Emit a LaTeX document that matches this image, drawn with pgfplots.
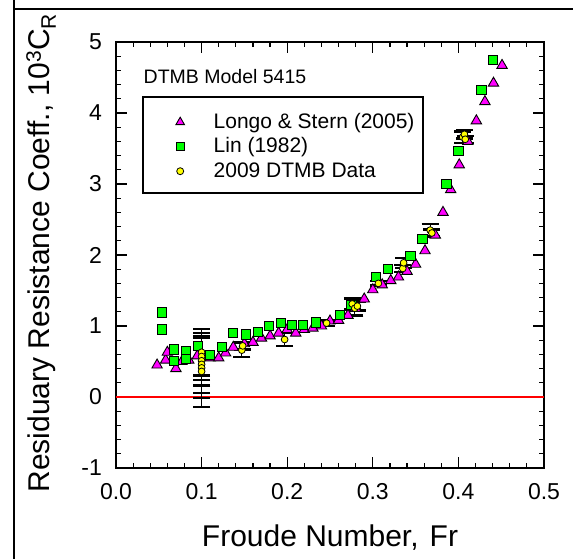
\documentclass[border=0pt]{standalone}
\usepackage{pgfplots}
\pgfplotsset{compat=1.18}
\usepackage{fontspec}
\setmainfont{Liberation Sans}
\definecolor{mag}{RGB}{255,0,255}
\definecolor{grn}{RGB}{0,255,0}
\definecolor{yel}{RGB}{255,255,0}
\begin{document}
\begin{tikzpicture}[x=1pt,y=1pt]
\useasboundingbox (0,0) rectangle (573,559);
\draw[line width=2pt] (14,580) -- (14,-20);
\draw[line width=2pt] (13,550) -- (600,550);
\begin{axis}[
  at={(116pt,91pt)}, anchor=south west,
  width=428pt, height=426pt, scale only axis,
  xmin=0, xmax=0.5, ymin=-1, ymax=5,
  xtick={0,0.1,0.2,0.3,0.4,0.5},
  xticklabels={0.0,0.1,0.2,0.3,0.4,0.5},
  ytick={-1,0,1,2,3,4,5},
  yticklabels={-1,0,1,2,3,4,5},
  minor x tick num=4, minor y tick num=4,
  tick align=inside, major tick length=11pt, minor tick length=5pt,
  axis line style={line width=1.4pt},
  every tick/.style={black, line width=1.2pt},
  ticklabel style={font=\fontsize{23}{23}\selectfont, inner sep=0pt},
  xticklabel shift=15pt, yticklabel shift=14pt,
  xlabel={Froude Number,\hspace{11pt}Fr},
  xlabel style={font=\fontsize{30}{30}\selectfont, at={(axis description cs:0.5,-0.1854)}, anchor=base, inner sep=0pt},
  ylabel={Residuary Resistance Coeff.,\ 10\textsuperscript{3}C\textsubscript{R}},
  ylabel style={font=\fontsize{30}{30}\selectfont, at={(axis description cs:-0.1542,0.5047)}, anchor=base, inner sep=0pt},
  legend style={at={(axis description cs:0.06425,0.84507)}, anchor=north west,
    draw=none, fill=none, inner sep=0pt, row sep=0pt, column sep=0pt,
    font=\fontsize{21}{21}\selectfont,
    nodes={inner sep=0pt, text height=20pt, text depth=4.5pt},
    cells={anchor=base west}},
  legend image code/.code={\path[draw=none, fill=none] (-36.5pt,-4.5pt) rectangle (33.5pt,20pt); \draw[#1] plot coordinates {(0pt,6pt)};},
]
\addplot[red, line width=1.3pt, forget plot] coordinates {(0,0) (0.5,0)};

\addplot[only marks, mark=triangle*, mark size=6pt,
  mark options={fill=mag, draw=black, line width=0.9pt},
  legend image post style={mark size=5pt}] table {
x y
0.048 0.45
0.058 0.52
0.060 0.63
0.070 0.40
0.077 0.50
0.085 0.52
0.095 0.58
0.110 0.55
0.120 0.55
0.128 0.62
0.137 0.70
0.150 0.75
0.160 0.77
0.170 0.83
0.180 0.86
0.190 0.90
0.200 0.95
0.210 0.90
0.220 0.95
0.230 0.97
0.240 1.00
0.250 1.07
0.260 1.08
0.271 1.15
0.280 1.25
0.290 1.38
0.300 1.51
0.311 1.58
0.321 1.64
0.330 1.69
0.340 1.77
0.350 1.87
0.361 2.06
0.373 2.28
0.382 2.60
0.391 2.92
0.401 3.27
0.411 3.60
0.421 3.89
0.431 4.16
0.441 4.42
0.451 4.67
};
\addlegendentry{Longo \& Stern (2005)}

\addplot[only marks, mark=square*, mark size=4.6pt,
  mark options={fill=grn, draw=black, line width=0.9pt},
  legend image post style={mark size=4pt}] table {
x y
0.054 1.19
0.054 0.95
0.068 0.67
0.068 0.51
0.082 0.65
0.082 0.535
0.096 0.72
0.110 0.59
0.1235 0.71
0.137 0.90
0.1515 0.88
0.166 0.92
0.179 1.00
0.193 1.04
0.206 1.01
0.218 1.01
0.234 1.05
0.262 1.15
0.275 1.30
0.304 1.69
0.318 1.80
0.344 1.99
0.358 2.23
0.386 3.00
0.400 3.47
0.427 4.33
0.440 4.75
};
\addlegendentry{Lin (1982)}

\addplot[only marks, mark=*, mark size=3.4pt,
  mark options={fill=yel, draw=black, line width=0.8pt},
  legend image post style={mark size=3.5pt},
  error bars/.cd, y dir=both, y explicit,
  error bar style={black, line width=1pt},
  error mark options={rotate=90, black, line width=2.4pt, mark size=8.5pt}]
  table[x=x, y=y, y error=e] {
x y e
0.100 0.63 0.33
0.100 0.57 0.33
0.100 0.51 0.35
0.100 0.46 0.40
0.100 0.41 0.42
0.100 0.36 0.50
0.147 0.66 0.10
0.148 0.72 0.05
0.197 0.81 0.09
0.246 1.04 0.04
0.276 1.31 0.08
0.279 1.25 0.10
0.282 1.28 0.06
0.3065 1.60 0.03
0.335 1.81 0.05
0.336 1.89 0.07
0.367 2.35 0.09
0.369 2.31 0.05
0.405 3.66 0.08
0.407 3.70 0.06
0.408 3.63 0.05
};
\addlegendentry{2009 DTMB Data}
\end{axis}
\node[anchor=base west, inner sep=0pt, font=\fontsize{19.5}{19.5}\selectfont] at (143.5,475.5) {DTMB Model 5415};
\draw[line width=1.2pt] (143,462) rectangle (423,366);
\end{tikzpicture}
\end{document}
